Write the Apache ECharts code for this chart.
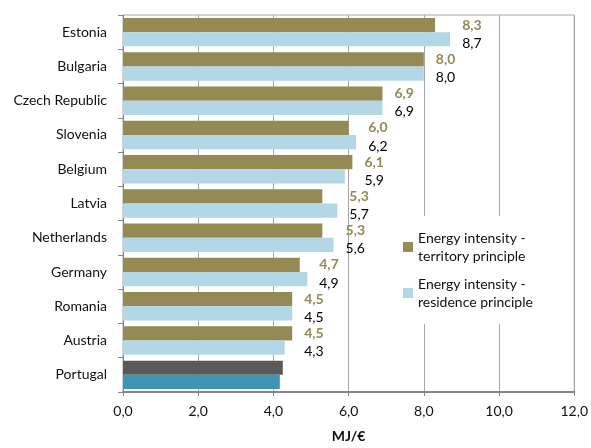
<!DOCTYPE html>
<html>
<head>
<meta charset="utf-8">
<script src="https://cdn.jsdelivr.net/npm/echarts@6/dist/echarts.min.js"></script>
<style>
  html, body { margin: 0; padding: 0; background: #fff; }
  #chart { width: 591px; height: 448px; }
</style>
</head>
<body>
<div id="chart"></div>
<script>
// Energy intensity by country (MJ per euro), two accounting principles
const countries = ['Estonia', 'Bulgaria', 'Czech Republic', 'Slovenia', 'Belgium', 'Latvia',
  'Netherlands', 'Germany', 'Romania', 'Austria', 'Portugal'];
const territory = [8.3, 8.0, 6.9, 6.0, 6.1, 5.3, 5.3, 4.7, 4.5, 4.5, 4.25];
const residence = [8.7, 8.0, 6.9, 6.2, 5.9, 5.7, 5.6, 4.9, 4.5, 4.3, 4.17];
const seriesNames = ['Energy intensity - territory principle', 'Energy intensity - residence principle'];
const xTicks = { min: 0, max: 12, interval: 2 };
const highlighted = 'Portugal';

const FONT = 'Lato, "Open Sans", sans-serif';
const OLIVE = '#948a54';
const LIGHTBLUE = '#b3d7e6';
const TEXT = '#111';
const fmt = v => v.toFixed(1).replace('.', ',');

const chart = echarts.init(document.getElementById('chart'), null, { renderer: 'canvas' });

function buildData(values, other, pxPerUnit, hiColor) {
  return values.map((v, i) => {
    const item = { value: v };
    if (countries[i] === highlighted) {
      item.itemStyle = { color: hiColor };
      item.label = { show: false };
    } else {
      const m = Math.max(v, other[i]);
      item.label = { distance: (m - v) * pxPerUnit + 12 };
    }
    return item;
  });
}

function makeOption(pxPerUnit) {
  return {
    animation: false,
    backgroundColor: '#fff',
    textStyle: { fontFamily: FONT },
    grid: { left: 123, right: 15, top: 15, bottom: 52, show: true, borderColor: '#a6a6a6', borderWidth: 1 },
    legend: {
      orient: 'vertical',
      left: 398,
      top: 216,
      backgroundColor: '#fff',
      padding: [4, 6, 4, 5],
      itemWidth: 10,
      itemHeight: 10,
      itemGap: -8,
      icon: 'rect',
      formatter: name => name.replace(' - ', ' -\n'),
      textStyle: { fontFamily: FONT, fontSize: 14, color: TEXT, lineHeight: 18, padding: [18, 0, 0, 0] },
      data: seriesNames
    },
    xAxis: {
      type: 'value',
      min: xTicks.min, max: xTicks.max, interval: xTicks.interval,
      name: 'MJ/€',
      nameLocation: 'middle',
      nameGap: 37,
      nameTextStyle: { fontFamily: FONT, fontSize: 14, fontWeight: 'bold', color: TEXT },
      axisLine: { show: true, lineStyle: { color: '#868686', width: 2 } },
      axisTick: { show: true, length: 4, lineStyle: { color: '#868686' } },
      axisLabel: { fontFamily: FONT, fontSize: 14, color: TEXT, margin: 12, formatter: fmt },
      splitLine: { show: true, lineStyle: { color: '#a6a6a6', width: 1 } }
    },
    yAxis: {
      type: 'category',
      data: countries,
      inverse: true,
      axisLine: { show: true, lineStyle: { color: '#868686', width: 1 } },
      axisTick: { show: true, length: 5, lineStyle: { color: '#868686' } },
      axisLabel: { fontFamily: FONT, fontSize: 14, color: TEXT, margin: 16, padding: [4, 0, 0, 0] }
    },
    series: [
      {
        name: seriesNames[0],
        type: 'bar',
        barGap: '0%',
        barCategoryGap: '17%',
        itemStyle: { color: OLIVE },
        label: {
          show: true, position: 'right', formatter: p => fmt(p.value),
          fontFamily: FONT, fontSize: 14, fontWeight: 'bold', color: OLIVE, offset: [0, 0]
        },
        data: buildData(territory, residence, pxPerUnit, '#595959')
      },
      {
        name: seriesNames[1],
        type: 'bar',
        barGap: '0%',
        barCategoryGap: '17%',
        itemStyle: { color: LIGHTBLUE },
        label: {
          show: true, position: 'right', formatter: p => fmt(p.value),
          fontFamily: FONT, fontSize: 14, color: '#000', offset: [0, 4]
        },
        data: buildData(residence, territory, pxPerUnit, '#3e95b1')
      }
    ]
  };
}

// First pass to learn the value-axis scale, then place the value labels
// in a shared column just right of the longer bar of each pair.
chart.setOption(makeOption(37.7));
const px = chart.convertToPixel({ xAxisIndex: 0 }, 1) - chart.convertToPixel({ xAxisIndex: 0 }, 0);
chart.setOption(makeOption(px), true);
</script>
</body>
</html>
